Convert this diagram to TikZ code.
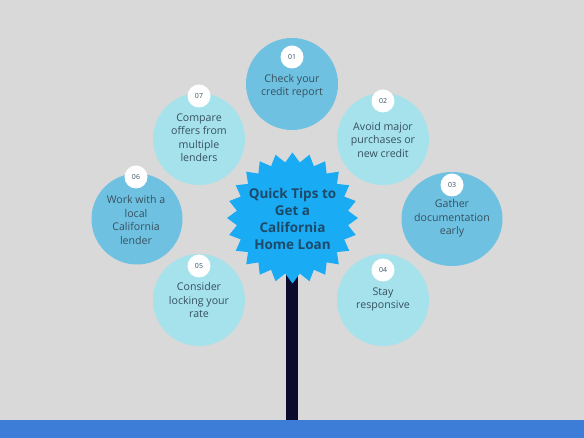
\documentclass[tikz,border=0pt]{standalone}
\usepackage{fontspec}
\setmainfont{Open Sans}
\usetikzlibrary{shapes.geometric,backgrounds}
\definecolor{bgc}{HTML}{D9D9D9}
\definecolor{cdark}{HTML}{6FC1E1}
\definecolor{clight}{HTML}{A6E2EB}
\definecolor{starc}{HTML}{1AABF5}
\definecolor{trunkc}{HTML}{0B0B2E}
\definecolor{barc}{HTML}{3D7DD8}
\definecolor{txt}{HTML}{36505F}
\definecolor{ttl}{HTML}{1D4A68}
\definecolor{linec}{HTML}{707070}
\tikzset{
  tipdark/.style={circle, fill=cdark, minimum size=92pt, inner sep=0pt},
  tiplight/.style={circle, fill=clight, minimum size=92pt, inner sep=0pt},
  badge/.style={circle, fill=white, minimum size=23pt, inner sep=0pt, text=txt, font=\fontsize{7}{8}\selectfont},
  tiptext/.style={align=center, text=txt, font=\fontsize{10.6}{13.5}\selectfont},
  conn/.style={draw=linec, line width=0.8pt},
}
\begin{document}
\begin{tikzpicture}[x=1pt,y=-1pt]
\fill[bgc] (0,0) rectangle (584,438);
\useasboundingbox (0,0) rectangle (584,438);
\fill[barc] (0,420) rectangle (584,438);
\fill[trunkc] (286,270) rectangle (298,420);

\node[star, star points=24, star point ratio=1.17, minimum size=131pt, inner sep=0pt, fill=starc] (hub) at (292.5,218) {};

\node[tipdark] (t1) at (292,84) {};
\node[tiplight] (t2) at (383,139) {};
\node[ellipse, fill=cdark, minimum width=101pt, minimum height=94pt, inner sep=0pt] (t3) at (452,219) {};
\node[tiplight] (t4) at (383,300) {};
\node[tiplight] (t5) at (199,300) {};
\node[tipdark, minimum size=91pt] (t6) at (137,219) {};
\node[tiplight] (t7) at (199,139) {};

\begin{pgfonlayer}{background}
\foreach \i in {1,...,7}{\draw[conn] (hub.center) -- (t\i.center);}
\end{pgfonlayer}

\node[badge] (b1) at (292,57) {01};
\node[badge] (b2) at (383,101) {02};
\node[badge] (b3) at (452,185) {03};
\node[badge] (b4) at (383,270) {04};
\node[badge] (b5) at (199,266) {05};
\node[badge] (b6) at (136,177) {06};
\node[badge] (b7) at (199,96) {07};

\node[tiptext] (l1) at (292,86) {Check your\\credit report};
\node[tiptext] (l2) at (383,140) {Avoid major\\purchases or\\new credit};
\node[tiptext] (l3) at (452,218.5) {Gather\\documentation\\early};
\node[tiptext] (l4) at (383,299.5) {Stay\\responsive};
\node[tiptext] (l5) at (199,300.5) {Consider\\locking your\\rate};
\node[tiptext] (l6) at (136,220) {Work with a\\local\\California\\lender};
\node[tiptext] (l7) at (199,137.5) {Compare\\offers from\\multiple\\lenders};

\node[align=center, text=ttl, font=\bfseries\fontsize{13.5}{17}\selectfont] (title) at (292.5,218.5) {Quick Tips to\\Get a\\California\\Home Loan};
\end{tikzpicture}
\end{document}
